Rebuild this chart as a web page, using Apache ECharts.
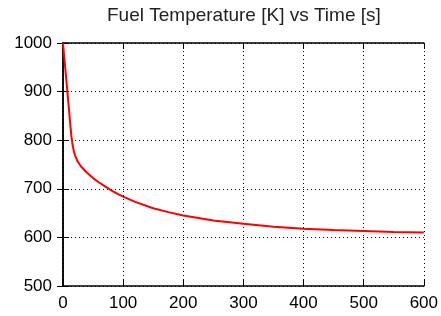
<!DOCTYPE html>
<html>
<head>
<meta charset="utf-8">
<script src="https://cdn.jsdelivr.net/npm/echarts@6/dist/echarts.min.js"></script>
<style>
  html, body { margin: 0; padding: 0; background: #fff; }
  #chart { width: 441px; height: 316px; }
</style>
</head>
<body>
<div id="chart"></div>
<script>
// time [s] and fuel temperature [K]
const times = [0, 2, 4, 6, 8, 10, 12, 14, 16, 18, 20, 24, 30, 40, 50, 60, 70, 80, 90, 100, 120, 150, 175, 200, 250, 300, 350, 400, 450, 500, 550, 600];
const temps = [1000, 972, 945, 918, 890, 862, 834, 808, 790, 778, 769, 757, 746, 733, 722, 713, 705, 697, 690, 684, 673, 660, 652, 645, 635, 628, 622, 618, 615, 613, 611, 610];
const xTicks = [0, 100, 200, 300, 400, 500, 600];
const yTicks = [500, 600, 700, 800, 900, 1000];

const font = "'Liberation Sans', Arial, sans-serif";
const points = times.map((t, i) => [t, temps[i]]);

const tickStyle = { inside: true, length: 6, lineStyle: { color: "#000", width: 1 } };
const gridLine = { show: true, lineStyle: { color: "#000", type: [1, 3], width: 1 } };
const frame = { show: true, lineStyle: { color: "#000", width: 1.5 } };

const option = {
  animation: false,
  title: {
    text: "Fuel Temperature [K] vs Time [s]",
    left: 107,
    top: 6,
    padding: 0,
    textStyle: { fontFamily: font, fontSize: 19, fontWeight: "normal", color: "#222" },
  },
  grid: { left: 63, right: 17, top: 43, bottom: 30 },
  xAxis: [
    {
      type: "value", min: xTicks[0], max: xTicks[xTicks.length - 1], interval: 100,
      axisLine: frame, axisTick: tickStyle, splitLine: gridLine,
      axisLabel: { fontFamily: font, fontSize: 17, color: "#000", margin: 9, formatter: (v) => String(v) },
    },
    {
      type: "value", position: "top", min: xTicks[0], max: xTicks[xTicks.length - 1], interval: 100,
      axisLine: frame, axisTick: tickStyle, splitLine: { show: false },
      axisLabel: { show: false },
    },
  ],
  yAxis: [
    {
      type: "value", min: yTicks[0], max: yTicks[yTicks.length - 1], interval: 100,
      axisLine: frame, axisTick: tickStyle, splitLine: gridLine,
      axisLabel: { fontFamily: font, fontSize: 17, color: "#000", margin: 11, formatter: (v) => String(v) },
    },
    {
      type: "value", position: "right", min: yTicks[0], max: yTicks[yTicks.length - 1], interval: 100,
      axisLine: frame, axisTick: tickStyle, splitLine: { show: false },
      axisLabel: { show: false },
    },
  ],
  series: [
    {
      type: "line",
      data: points,
      showSymbol: false,
      smooth: false,
      lineStyle: { color: "#ff0000", width: 2 },
      z: 5,
    },
  ],
};

const chart = echarts.init(document.getElementById("chart"));
chart.setOption(option);
</script>
</body>
</html>
